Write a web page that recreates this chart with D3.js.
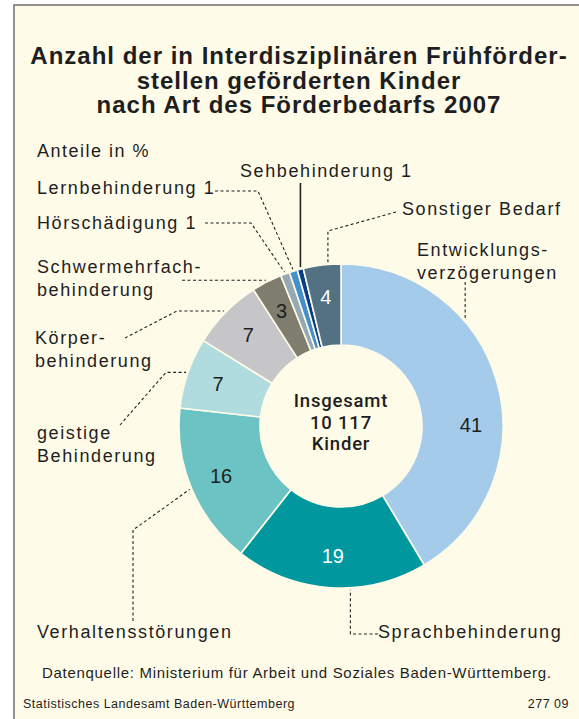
<!DOCTYPE html>
<html>
<head>
<meta charset="utf-8">
<script src="https://cdn.jsdelivr.net/npm/d3@7"></script>
<style>
  body { margin: 0; background: #fff; }
  text { font-family: "Liberation Sans", Arial, sans-serif; fill: #1e1e1e; }
</style>
</head>
<body>
<div id="chart"></div>
<script>
// Förderbedarf, clockwise from 12 o'clock
const categories = ['Entwicklungsverzögerungen', 'Sprachbehinderung', 'Verhaltensstörungen',
  'geistige Behinderung', 'Körperbehinderung', 'Schwermehrfachbehinderung',
  'Hörschädigung', 'Lernbehinderung', 'Sehbehinderung', 'Sonstiger Bedarf'];
// shares as drawn (the small ones are visibly below 1 %)
const shares = [41, 19, 16, 7, 7, 3, 0.9, 0.8, 0.6, 3.7];
// printed percent labels
const shareLabels = ['41', '19', '16', '7', '7', '3', '', '', '', '4'];
const colors = ['#a5cbea', '#00979f', '#6cc3c4', '#b1dcdf', '#c6c6c8', '#7f7d6e',
  '#95a9b5', '#4390cc', '#083e86', '#527283'];

const width = 579, height = 719;
const cx = 341, cy = 426, rOuter = 162, rInner = 81;

const svg = d3.select('#chart').append('svg')
  .attr('width', width)
  .attr('height', height);

// frame
svg.append('rect')
  .attr('x', 14).attr('y', 5)
  .attr('width', width - 14).attr('height', height - 5)
  .attr('fill', '#fefbe8');
svg.append('path')
  .attr('d', `M14,${height}V5H${width}`)
  .attr('fill', 'none')
  .attr('stroke', '#6f6f6f')
  .attr('stroke-width', 1.5);

// title
const title = ['Anzahl der in Interdisziplinären Frühförder-',
  'stellen geförderten Kinder', 'nach Art des Förderbedarfs 2007'];
svg.append('g').selectAll('text')
  .data(title)
  .enter().append('text')
  .attr('x', 299)
  .attr('y', (d, i) => 64 + i * 24.5)
  .attr('text-anchor', 'middle')
  .style('font-size', '24px')
  .style('font-weight', 'bold')
  .style('letter-spacing', '1px')
  .text(d => d);

svg.append('text')
  .attr('x', 37).attr('y', 157)
  .style('font-size', '18px')
  .style('letter-spacing', '1.5px')
  .text('Anteile in %');

// donut
const pie = d3.pie().sort(null).value(d => d)(shares);
const arc = d3.arc().innerRadius(rInner).outerRadius(rOuter);

const g = svg.append('g')
  .attr('transform', 'translate(' + cx + ',' + cy + ')');

g.selectAll('.slice')
  .data(pie)
  .enter().append('path')
  .attr('class', 'slice')
  .attr('d', arc)
  .attr('fill', (d, i) => colors[i])
  .attr('stroke', '#fefbe8')
  .attr('stroke-width', 1.6);

// value labels in the ring
const angleAt = (d, t) => d.startAngle + (d.endAngle - d.startAngle) * t;
g.selectAll('.val')
  .data(pie)
  .enter().append('text')
  .attr('class', 'val')
  .attr('x', d => 130 * Math.sin(angleAt(d, d.index === 0 ? 0.6 : 0.5)))
  .attr('y', d => -130 * Math.cos(angleAt(d, d.index === 0 ? 0.6 : 0.5)))
  .attr('dy', '0.36em')
  .attr('text-anchor', 'middle')
  .style('font-size', '20px')
  .style('fill', (d, i) => (i === 1 || i === 9) ? '#fff' : '#1e1e1e')
  .text((d, i) => shareLabels[i]);

// centre
const centre = ['Insgesamt', '10 117', 'Kinder'];
g.selectAll('.ctr')
  .data(centre)
  .enter().append('text')
  .attr('class', 'ctr')
  .attr('y', (d, i) => -19 + i * 21.5)
  .attr('text-anchor', 'middle')
  .style('font-family', 'Roboto, sans-serif')
  .style('font-weight', 500)
  .style('font-size', '18.5px')
  .style('letter-spacing', '0.8px')
  .text(d => d);

// category labels with leader lines
function edge(i, t) {
  const a = angleAt(pie[i], t);
  const r = rOuter + 2;
  return [cx + r * Math.sin(a), cy - r * Math.cos(a)];
}

const labels = [
  {i: 0, t: 0.33, x: 417, y: 256, lines: ['Entwicklungs-', 'verzögerungen'], path: e => [[e[0], 282], e]},
  {i: 1, t: 0.40, x: 378, y: 638, lines: ['Sprachbehinderung'], path: e => [[378, 634], [e[0], 634], e]},
  {i: 2, t: 0.5, x: 37, y: 638, lines: ['Verhaltensstörungen'], path: e => [[133, 621], [133, 530], e]},
  {i: 3, t: 0.5, x: 37, y: 439, lines: ['geistige', 'Behinderung'], path: e => [[120, 425], [166, e[1]], e]},
  {i: 4, t: 0.5, x: 35, y: 344, lines: ['Körper-', 'behinderung'], path: e => [[125, 338], [177, e[1]], e]},
  {i: 5, t: 0.5, x: 37, y: 273, lines: ['Schwermehrfach-', 'behinderung'], path: e => [[182, e[1]], e]},
  {i: 6, t: 0.5, x: 37, y: 229, lines: ['Hörschädigung 1'], path: e => [[205, 223], [251, 223], e]},
  {i: 7, t: 0.5, x: 37, y: 194, lines: ['Lernbehinderung 1'], path: e => [[215, 191], [258, 191], e]},
  {i: 8, t: 0.6, x: 240, y: 177, lines: ['Sehbehinderung 1'], path: e => [[e[0], 183], e], solid: true},
  {i: 9, t: 0.66, x: 402, y: 215, lines: ['Sonstiger Bedarf'], path: e => [[396, 212], [e[0], 231], e]}
];

const line = d3.line();
const lab = svg.append('g');

lab.selectAll('.leader')
  .data(labels)
  .enter().append('path')
  .attr('class', 'leader')
  .attr('d', d => line(d.path(edge(d.i, d.t))))
  .attr('fill', 'none')
  .attr('stroke', '#222')
  .attr('stroke-width', d => d.solid ? 1.6 : 1.1)
  .attr('stroke-dasharray', d => d.solid ? null : '3,2.5');

lab.selectAll('.cat')
  .data(labels)
  .enter().append('text')
  .attr('class', 'cat')
  .attr('x', d => d.x)
  .attr('y', d => d.y)
  .style('font-size', '18px')
  .style('letter-spacing', '1.6px')
  .selectAll('tspan')
  .data(d => d.lines.map(s => ({s, x: d.x})))
  .enter().append('tspan')
  .attr('x', d => d.x)
  .attr('dy', (d, i) => i ? 23 : 0)
  .text(d => d.s);

// footer
svg.append('text')
  .attr('x', 42).attr('y', 678)
  .style('font-size', '15px')
  .style('letter-spacing', '0.7px')
  .text('Datenquelle: Ministerium für Arbeit und Soziales Baden-Württemberg.');
svg.append('text')
  .attr('x', 23).attr('y', 708)
  .style('font-size', '12.5px')
  .style('letter-spacing', '0.5px')
  .text('Statistisches Landesamt Baden-Württemberg');
svg.append('text')
  .attr('x', 569).attr('y', 708)
  .attr('text-anchor', 'end')
  .style('font-size', '12.5px')
  .style('letter-spacing', '0.5px')
  .text('277 09');
</script>
</body>
</html>
